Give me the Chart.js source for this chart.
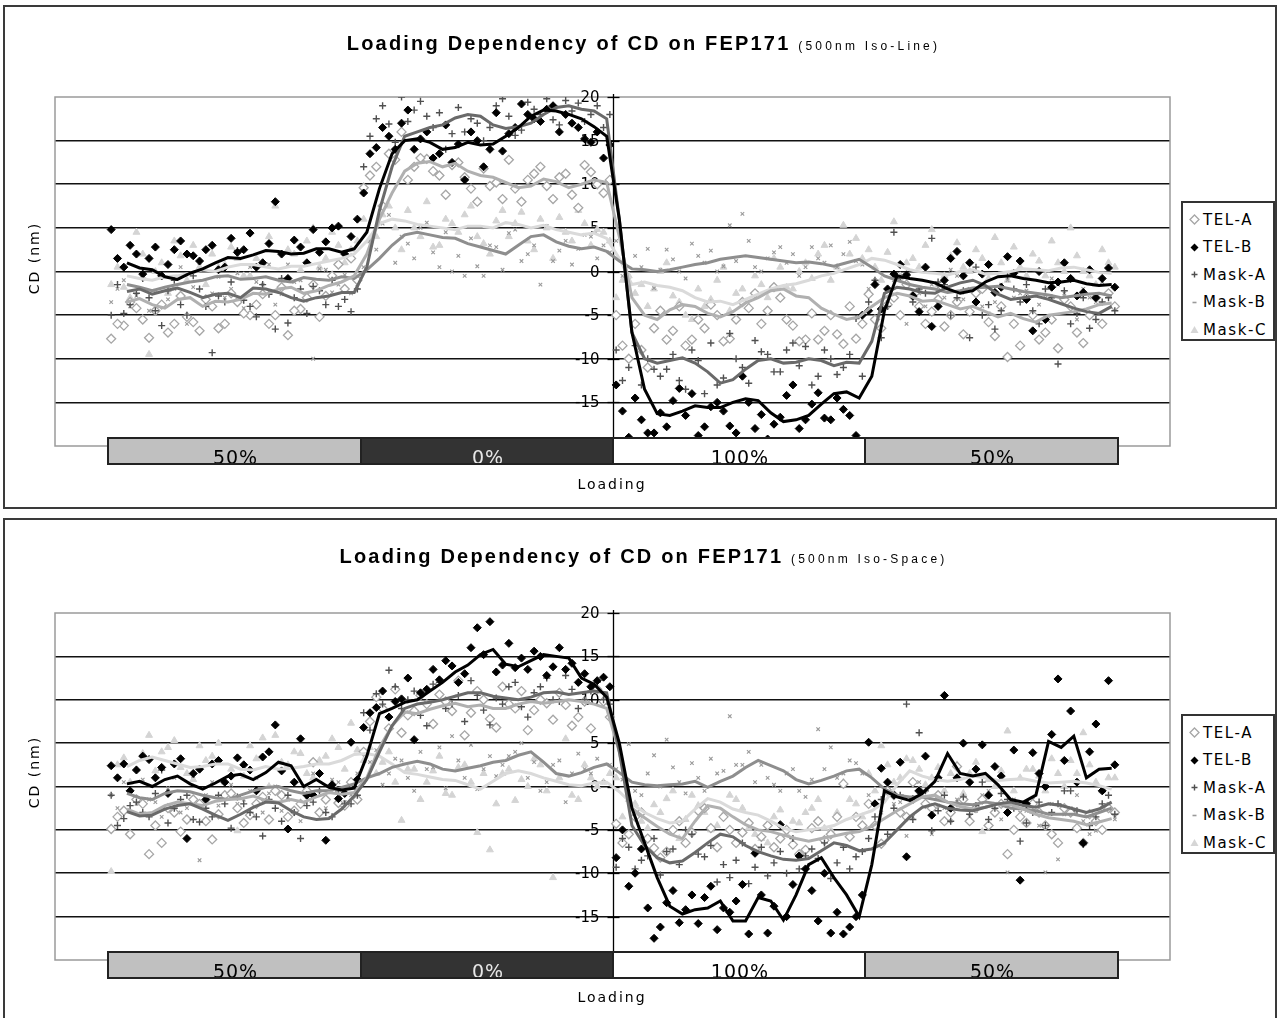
<!DOCTYPE html>
<html><head><meta charset="utf-8">
<script src="https://cdn.jsdelivr.net/npm/chart.js@4.4.1/dist/chart.umd.min.js"></script>
<style>
html,body{margin:0;padding:0;background:#fff;}
body{width:1279px;height:1018px;position:relative;overflow:hidden;font-family:"DejaVu Sans",sans-serif;color:#000;}
.panel{position:absolute;left:3px;width:1274px;border:2px solid #3a3a3a;box-sizing:border-box;}
canvas{position:absolute;left:0;}
.title{position:absolute;left:4px;width:1279px;text-align:center;font-family:"Liberation Sans",Arial,sans-serif;font-weight:bold;font-size:20px;line-height:24px;letter-spacing:2.2px;white-space:nowrap;}
.title small{font-weight:normal;font-size:12px;letter-spacing:3.2px;}
.ylab{position:absolute;font-size:14px;letter-spacing:2px;transform:translate(-50%,-50%) rotate(-90deg);white-space:nowrap;}
.xlab{position:absolute;font-size:14px;letter-spacing:2px;transform:translate(-50%,-50%);white-space:nowrap;}
.legend{position:absolute;border:2px solid #333;box-sizing:border-box;width:94px;height:140px;padding:3px 0 0 6px;background:#fff;}
.legend div{height:27.5px;display:flex;align-items:center;font-size:15px;letter-spacing:1.6px;white-space:nowrap;}
.legend svg{width:11px;height:11px;margin-right:3px;flex:none;}
</style></head>
<body>
<div class="panel" style="top:5px;height:504px"></div>
<div class="panel" style="top:518px;height:520px"></div>
<canvas id="c1" width="1279" height="510" style="top:0"></canvas>
<canvas id="c2" width="1279" height="508" style="top:510px"></canvas>
<div class="title" style="top:31px">Loading Dependency of CD on FEP171 <small>(500nm Iso-Line)</small></div>
<div class="title" style="top:544px">Loading Dependency of CD on FEP171 <small>(500nm Iso-Space)</small></div>
<div class="ylab" style="left:34px;top:258px">CD (nm)</div>
<div class="ylab" style="left:34px;top:772px">CD (nm)</div>
<div class="xlab" style="left:612px;top:484px">Loading</div>
<div class="xlab" style="left:612px;top:997px">Loading</div>
<div class="legend" id="lg1" style="left:1181px;top:201px"></div>
<div class="legend" id="lg2" style="left:1181px;top:714px"></div>
<script>
// ---------------- data ----------------
const seriesNames = ['TEL-A','TEL-B','Mask-A','Mask-B','Mask-C'];
const loadingLabels = ['50%','0%','100%','50%'];
const phaseFirstWafer = [1,21,41,61];
const phaseLastWafer = [20,40,60,80];
const yTickValues = [20,15,10,5,0,-5,-10,-15];
const wafers = Array.from({length:80},(_,i)=>i+1);
const evenWafers = wafers.filter(w => w % 2 === 0);          // 2..80
const oddWafers = wafers.filter(w => w % 2 === 1 && w > 1);  // 3..79

// Iso-Line: CD deviation (nm), site 1 of each wafer
const lineTELA = [
 -7.7,-6.2,-4.2,-7.6,-3.8,-6.0,-5.2,-6.8,-4.0,-6.0,-3.5,-5.0,-2.6,-5.0,-7.3,-4.3,-1.5,-2.8,0.8,1.5,
 9.6,12.0,13.5,16.0,12.0,12.9,11.0,12.2,10.8,8.0,9.8,8.3,9.5,10.5,12.0,8.3,11.2,7.3,11.4,9.0,
 -5.0,-10.0,-9.0,-6.5,-7.8,-4.0,-7.8,-6.5,-5.0,-7.7,-3.5,-2.5,-4.5,-3.0,-6.2,-7.8,-7.8,-5.0,-8.3,-7.7,
 -2.6,-6.5,-3.0,-1.5,-4.0,-4.6,-6.3,-3.5,-4.6,-2.0,-7.4,-9.8,-8.5,-5.0,-7.0,-8.8,-4.0,-8.2,-3.0,-2.5];
const lineTELB = [
 4.8,0.5,2.0,1.5,-0.5,2.5,2.0,1.2,3.0,0.5,2.2,4.4,1.0,8.0,-0.8,2.8,4.8,3.4,5.2,4.0,
 9.0,14.2,15.5,17.0,14.0,16.0,13.5,12.5,10.5,15.0,14.0,13.8,16.5,18.0,17.2,19.0,18.0,16.5,14.8,13.0,
 -13.0,-19.0,-17.0,-18.5,-17.8,-13.4,-14.0,-17.8,-15.0,-17.7,-12.0,-18.0,-19.2,-16.7,-13.0,-17.0,-13.9,-17.0,-15.8,-18.8,
 -4.5,-4.3,-0.3,-0.4,-4.6,-6.3,-1.0,2.3,1.0,-0.3,-2.4,1.7,1.2,-6.8,-5.5,-1.2,-0.8,-2.4,-3.0,0.4];
const lineMaskA = [
 -5.0,-4.8,-2.5,-3.0,-6.2,-1.0,-5.0,-2.0,-9.3,-3.5,2.4,-4.0,-1.5,-6.6,-5.9,-2.0,-1.7,-3.8,-4.0,-4.6,
 12.0,17.5,16.9,20.0,18.5,17.8,18.2,15.8,16.0,17.0,16.5,19.8,15.6,19.4,18.0,17.4,19.6,19.3,18.0,16.5,
 -9.0,-11.0,-13.0,-11.2,-11.2,-12.5,-9.0,-14.0,-13.0,-7.1,-11.0,-7.9,-9.5,-11.5,-8.2,-8.6,-12.0,-10.0,-11.0,-5.4,
 -3.5,-7.6,4.5,-0.3,-2.0,3.8,-1.5,-3.0,-7.6,-5.0,-6.6,-0.5,-3.5,-4.5,-2.0,-10.6,-6.0,-3.0,-5.5,-3.0];
const lineMaskB = [
 -3.5,-1.0,-2.8,-4.5,-0.5,-2.0,-6.0,1.0,-2.5,-3.0,-0.2,0.5,-1.5,-3.8,0.8,-1.0,-10.0,0.2,-1.5,-2.5,
 0.5,2.5,6.5,4.0,1.5,5.6,0.5,0.0,-0.5,0.6,3.0,0.2,4.8,2.0,-1.5,1.2,3.5,2.6,4.0,3.0,
 3.5,-1.0,0.5,-1.9,2.5,0.0,3.2,1.0,0.0,5.3,6.6,0.5,1.5,2.8,2.0,0.5,1.5,3.0,2.0,1.2,
 -2.0,-4.5,-1.0,-6.0,-2.5,-1.5,-3.0,-0.5,-2.0,-4.0,-3.5,-1.0,-2.5,-5.0,-3.0,-1.5,-4.0,-2.0,-3.5,-2.5];
const lineMaskC = [
 -1.5,-1.8,4.5,-9.5,1.0,3.5,-1.0,0.5,2.0,0.8,1.5,-0.5,1.0,7.5,2.5,0.2,5.0,1.5,3.0,2.5,
 6.0,4.0,7.5,2.5,5.0,8.0,3.0,5.5,6.5,4.0,2.0,7.0,5.5,3.5,6.0,1.5,4.5,7.0,3.0,4.5,
 -3.0,-0.5,-1.5,-2.0,1.0,-3.5,-5.5,-4.0,-1.0,-4.5,-2.0,-0.5,-3.0,0.5,-2.0,1.0,2.0,-1.0,5.3,3.8,
 2.5,-1.0,5.7,1.0,0.5,4.8,-0.5,3.3,0.0,1.5,3.9,-1.0,0.5,2.0,-0.5,1.0,5.0,0.0,-1.5,1.0];
// Iso-Line: CD deviation (nm), site 2 of each wafer
const lineTELA2 = [
 -6.0,-3.5,-5.5,-4.5,-7.0,-2.8,-5.8,-3.2,-6.5,-2.5,-4.8,-3.8,-6.0,-1.8,-4.5,-3.0,-5.2,-0.5,-2.0,-1.0,
 11.0,7.5,12.8,10.5,13.0,11.5,8.8,12.5,9.5,11.8,10.2,12.8,8.0,11.2,9.8,10.8,8.8,12.2,10.0,10.5,
 -8.5,-6.0,-11.0,-4.5,-6.8,-8.5,-5.5,-3.8,-8.0,-5.5,-4.2,-6.0,-1.8,-5.5,-8.0,-4.8,-6.8,-7.2,-4.0,-6.0,
 -5.5,-3.8,-5.0,-2.8,-6.0,-3.2,-5.0,-7.2,-2.5,-5.8,-4.0,-6.0,-3.0,-7.8,-5.5,-3.2,-7.0,-5.0,-6.0,-4.0];
const lineTELB2 = [
 1.5,3.0,-0.3,2.8,0.8,3.5,1.8,2.5,0.2,3.8,2.5,0.5,3.2,2.0,3.6,1.0,2.2,5.0,2.0,6.0,
 13.5,16.5,14.0,18.5,15.2,13.0,16.8,14.6,16.0,12.0,18.2,15.8,19.2,17.5,18.6,16.0,17.0,15.2,16.0,14.5,
 -16.0,-14.5,-18.5,-16.2,-14.8,-16.5,-18.8,-15.5,-16.0,-18.5,-15.0,-16.4,-17.5,-14.2,-18.0,-15.2,-16.8,-14.5,-16.5,-5.0,
 -1.5,-2.0,0.8,-2.8,0.5,-4.0,1.5,-0.5,-3.5,0.8,-1.8,-0.2,-3.2,0.0,-1.8,1.0,-2.8,0.2,-0.8,-1.8];
const lineMaskA2 = [
 -1.5,-3.8,-0.8,-4.5,-2.2,-3.8,-0.5,-4.0,-2.8,-1.2,-3.3,-5.2,-2.6,-0.8,-3.0,-4.8,-2.2,-1.0,-3.2,-2.0,
 15.5,19.0,14.8,17.2,19.5,16.5,14.0,18.8,17.5,15.0,19.0,17.8,16.2,18.6,19.8,16.8,18.4,17.2,19.0,18.0,
 -12.5,-8.5,-10.0,-12.0,-9.5,-13.5,-10.2,-8.2,-12.2,-10.0,-12.8,-9.2,-11.5,-9.0,-10.8,-13.0,-9.0,-11.8,-9.5,-12.0,
 -1.0,-4.0,-0.8,-3.5,-2.5,-1.2,-5.0,-2.2,0.5,-3.8,-4.5,-2.0,-1.5,-6.0,-3.0,-2.2,-4.8,-6.5,-3.5,-4.5];
const lineMaskB2 = [
 -2.0,-4.0,-0.8,-2.2,-3.2,0.5,-1.8,-3.6,-0.6,-2.0,-4.2,-1.2,0.8,-2.6,-1.2,-3.0,0.3,-2.4,-0.4,-1.8,
 3.5,5.5,1.0,3.2,5.0,2.2,4.5,1.8,3.8,-0.5,2.8,4.4,1.2,3.0,5.2,2.4,0.8,4.2,1.5,2.2,
 -0.5,1.8,2.6,0.2,1.4,-0.8,1.8,2.4,0.6,1.2,3.5,0.0,2.2,1.0,-0.5,2.8,1.0,0.5,3.4,0.8,
 -1.0,-3.5,-0.5,-2.8,-4.0,-1.8,0.2,-3.2,-2.0,-4.8,-1.5,-3.0,-2.2,-3.8,-0.8,-2.5,-5.5,-3.0,-1.2,-4.0];
const lineMaskC2 = [
 0.5,-3.0,2.0,0.0,-2.5,1.8,3.0,-1.5,0.5,2.8,-0.5,1.5,4.0,-1.0,2.0,3.5,0.5,4.5,1.0,3.5,
 3.5,6.5,5.0,7.0,4.0,2.8,6.0,4.5,7.5,3.2,5.8,4.0,6.8,2.5,5.0,6.2,3.5,5.5,4.8,3.5,
 -1.0,-2.5,-4.0,0.0,-2.8,-5.0,-2.0,-3.2,0.5,-2.5,-4.0,-1.5,1.5,-1.8,0.0,-0.8,3.0,0.5,2.0,1.5,
 0.5,2.2,-0.5,1.5,3.0,-1.5,1.8,0.5,2.5,-0.8,1.0,2.8,-0.5,1.2,3.5,0.0,1.8,-0.5,2.5,0.5];
// Iso-Line: moving-average trend lines, read at even wafers (2..80) and odd wafers (3..79)
const lineTELA_avg = [-3.5,-3.8,-3.2,-4.0,-3.5,-2.5,-2.0,-2.5,-1.6,-0.5, 6.0,11.5,12.6,12.4,11.0,10.2,9.8,10.3,10.0,10.2, -3.0,-5.5,-3.8,-4.8,-4.6,-3.0,-2.0,-3.0,-4.9,-5.2, -3.0,-2.8,-3.3,-4.3,-4.6,-4.8,-5.8,-4.8,-4.3,-3.6];
const lineTELA_avgOdd = [-3.1,-4.2,-3.0,-3.4,-3.2,-2.6,-1.8,-2.2,-1.2,2.0, 9.0,12.4,12.0,11.5,10.8,9.6,10.6,9.6,10.5,4.0, -5.0,-4.4,-4.0,-5.2,-3.6,-2.2,-2.8,-4.2,-5.5,-4.0, -2.5,-3.4,-3.8,-4.0,-5.2,-5.4,-5.0,-4.6,-3.8];
const lineTELB_avg = [1.0,0.2,-0.9,0.3,1.6,1.9,2.3,2.1,2.6,2.6, 9.5,15.0,14.8,14.2,14.5,15.5,17.8,18.4,17.5,15.5, -7.0,-16.3,-16.0,-15.6,-15.0,-14.8,-17.2,-16.5,-14.0,-14.5, -4.5,-0.8,-1.3,-2.5,-1.2,-0.5,-1.0,-1.2,-1.4,-1.5];
const lineTELB_avgOdd = [0.4,-0.6,-0.2,1.0,1.5,2.4,2.0,2.6,2.2,4.5, 13.5,15.2,14.0,14.8,14.6,16.5,18.5,18.0,16.6,6.0, -13.5,-16.5,-15.4,-15.6,-14.6,-16.2,-17.0,-15.2,-13.8,-12.0, -0.5,-1.0,-2.0,-2.2,-0.6,-0.8,-1.3,-1.0,-1.6];
const lineMaskA_avg = [-2.3,-2.6,-1.9,-3.0,-2.5,-1.9,-2.4,-3.4,-2.8,-2.4, 7.0,15.5,16.5,17.6,17.8,16.4,17.0,18.8,18.6,17.5, -7.0,-10.5,-9.9,-11.5,-12.4,-10.2,-10.5,-10.0,-10.8,-10.5, -2.5,-2.0,-2.5,-1.3,-1.6,-3.2,-2.8,-3.7,-4.6,-4.0];
const lineMaskA_avgOdd = [-2.0,-2.2,-2.4,-2.6,-3.0,-2.0,-3.0,-3.0,-2.4,0.5, 12.0,16.0,16.8,18.0,16.8,16.6,18.0,19.0,18.4,6.0, -10.0,-10.2,-10.5,-12.8,-11.2,-10.0,-10.4,-10.2,-10.4,-8.0, -1.8,-2.4,-1.8,-1.0,-2.6,-3.0,-3.2,-4.2,-4.8];
const lineMaskB_avg = [-1.5,-2.2,-1.5,-1.0,-0.5,-0.8,-1.0,-0.7,-1.0,-0.8, 1.5,4.2,4.2,3.8,2.8,2.0,4.0,3.4,2.6,2.3, 0.3,0.0,0.5,1.0,1.6,1.6,1.2,1.1,0.6,1.4, -0.5,-1.5,-2.0,-2.2,-1.8,-2.0,-2.5,-3.0,-2.6,-2.8];
const lineMaskB_avgOdd = [-1.8,-1.8,-1.2,-0.6,-0.9,-0.6,-1.2,-0.9,-0.6,0.2, 3.0,4.5,3.9,3.2,2.4,3.0,4.2,2.9,2.8,1.2, 0.2,0.2,0.8,1.4,1.8,1.4,1.0,0.9,1.0,0.5, -1.0,-1.8,-2.4,-1.9,-1.7,-2.3,-2.7,-2.8,-2.5];
const lineMaskC_avg = [-0.5,-1.0,-0.5,0.2,0.5,0.8,0.3,0.6,1.2,2.0, 5.5,5.8,5.2,4.8,5.2,5.6,5.0,4.8,4.2,3.8, -1.5,-1.6,-2.2,-3.5,-3.8,-2.6,-1.6,-1.0,-0.2,0.8, 1.3,0.2,-0.2,0.0,-0.3,0.0,0.2,0.4,0.2,-0.2];
const lineMaskC_avgOdd = [-0.8,-0.6,-0.2,0.0,0.8,0.5,0.6,0.9,1.5,3.5, 6.0,5.4,5.0,5.2,5.0,5.4,5.3,4.5,4.4,1.5, -1.2,-1.8,-3.0,-3.4,-3.2,-2.0,-1.4,-0.5,0.3,1.5, 0.8,-0.1,-0.4,0.2,-0.2,0.3,0.1,0.5,-0.1];

// Iso-Space: CD deviation (nm), site 1 of each wafer
const spaceTELA = [
 -4.9,-2.8,-1.5,-7.8,-6.5,-3.0,-3.8,-2.0,-6.1,-1.0,-2.5,-3.3,-1.2,-0.5,-3.5,-2.0,2.8,-1.5,-1.9,0.5,
 4.0,10.3,6.7,6.2,8.7,9.5,10.6,8.7,5.9,11.0,7.8,11.5,9.0,6.5,10.0,7.7,9.4,8.0,6.7,9.8,
 -4.3,-5.5,-3.0,-7.1,-7.5,-4.0,-5.3,-2.5,-7.0,-5.0,-5.3,-7.2,-4.5,-6.0,-6.7,-7.3,-4.0,-5.5,0.3,-3.5,
 -2.0,-6.6,-1.0,-3.5,-0.5,-2.5,-4.0,2.3,-4.0,-1.5,-3.0,-7.8,-3.5,-2.0,-4.5,-6.5,-3.0,-6.5,-4.0,-2.5];
const spaceTELB = [
 2.4,2.6,1.9,3.1,2.2,2.6,-6.0,2.0,2.6,0.5,3.3,1.9,3.4,7.1,-4.9,5.5,-1.0,-6.2,-1.4,5.1,
 6.8,9.1,8.0,10.1,5.4,11.2,12.3,13.9,13.0,18.3,19.0,14.0,13.7,13.5,15.0,13.8,13.5,12.0,11.5,12.6,
 -8.2,-11.5,-7.2,-17.5,-13.4,-15.7,-12.5,-12.8,-16.5,-14.5,-11.3,-7.7,-16.9,-4.4,-11.3,-9.5,-15.5,-16.9,-17.0,-15.0,
 5.1,2.1,-1.0,-8.1,-0.5,-3.3,10.5,1.0,0.5,4.8,2.3,-3.0,-10.8,3.9,0.0,12.4,8.7,-6.5,7.2,12.2];
const spaceMaskA = [
 -1.0,-3.7,-1.8,-3.5,1.9,-2.5,-1.0,-4.1,-3.5,-2.0,-1.2,-3.0,-5.7,-2.5,-1.0,-6.0,-1.8,-3.0,-0.5,-2.0,
 8.5,10.7,13.4,9.0,11.0,7.0,12.0,9.5,7.5,10.5,7.1,9.5,12.0,8.0,11.5,10.0,12.8,9.0,11.0,10.0,
 -9.3,-7.0,-8.5,-6.0,-7.5,-9.0,-5.5,-8.1,-11.0,-10.5,-6.5,-9.3,-10.3,-7.5,-6.0,-8.0,-8.3,-10.6,-7.0,-8.1,
 -6.0,-1.5,-2.5,9.5,6.2,-5.1,-1.0,-2.0,-3.2,0.5,-2.5,-1.5,-6.3,-3.0,-4.5,-2.0,-0.5,-6.7,-3.5,-1.0];
const spaceMaskB = [
 -1.0,0.5,-2.0,-1.5,-3.5,1.0,-2.5,-8.5,0.5,-1.0,-2.0,-0.5,-3.0,0.0,-1.5,-4.0,1.5,-2.5,0.5,-1.0,
 0.5,4.2,1.5,3.0,-0.5,2.0,4.5,5.8,1.0,-0.3,3.5,2.5,4.0,1.0,-0.5,2.5,-1.8,3.8,1.5,0.5,
 2.0,4.9,-1.0,3.6,5.4,0.5,2.7,-0.5,1.5,8.1,2.5,0.5,1.0,-0.5,2.0,-1.2,6.6,4.5,1.5,2.7,
 -1.0,-3.0,-2.0,-5.7,0.5,-5.5,-2.5,-1.5,-3.5,-1.0,-2.0,-9.9,-3.0,-1.5,-9.9,-8.4,-2.5,-4.0,-5.1,-2.0];
const spaceMaskC = [
 -9.8,3.3,2.0,5.9,4.0,5.3,1.5,4.7,3.5,0.5,-5.1,4.7,5.6,5.9,2.5,3.8,1.0,3.5,4.5,7.3,
 3.0,1.5,4.0,-3.9,2.0,0.5,3.5,-1.0,2.5,-5.3,-7.3,1.5,-1.6,0.0,2.5,-10.5,5.5,-1.5,1.0,0.5,
 1.0,-1.5,-4.0,-2.1,-1.4,-6.0,-1.0,-3.0,-4.5,-1.0,-2.5,-5.5,-6.5,-2.7,-4.0,-3.0,-1.5,-5.0,0.5,-2.0,
 1.5,4.7,0.5,3.2,2.0,1.0,-0.5,2.5,1.5,-5.2,0.0,6.4,1.0,2.0,-0.5,1.5,3.0,6.2,0.5,1.0];
// Iso-Space: CD deviation (nm), site 2 of each wafer
const spaceTELA2 = [
 -3.5,-5.5,-2.0,-4.5,-2.5,-5.2,-1.5,-4.0,-3.2,-0.8,-4.2,-2.0,-3.8,-1.0,-2.8,-0.5,-3.0,0.0,-2.2,-1.5,
 7.5,9.0,11.2,8.2,10.5,7.2,9.8,12.2,8.5,10.0,6.8,9.5,11.0,8.8,9.6,10.8,7.0,9.8,11.2,8.0,
 -6.5,-3.5,-6.0,-8.2,-5.0,-6.5,-2.8,-4.8,-3.5,-6.5,-4.2,-5.8,-7.0,-5.0,-7.8,-4.8,-6.2,-3.5,-5.8,-4.5,
 -4.5,-0.5,-3.0,0.5,-2.0,-1.0,-3.0,-1.5,-2.5,-4.5,-2.0,-5.0,-4.2,-3.0,-5.5,-2.5,-4.8,-3.2,-5.0,-3.0];
const spaceTELB2 = [
 1.0,-0.5,3.5,1.0,-0.8,3.2,1.5,-1.5,3.0,1.2,2.5,-0.5,4.0,1.8,0.5,-1.0,1.5,0.2,-0.8,0.8,
 8.5,11.0,9.8,12.5,10.8,13.5,14.5,12.0,16.0,15.2,13.2,16.5,14.8,15.6,12.8,16.0,14.2,13.0,12.2,11.5,
 -5.0,-10.0,-14.0,-16.2,-12.0,-14.2,-15.8,-11.5,-14.0,-13.2,-17.0,-12.5,-13.8,-15.0,-8.0,-12.0,-10.0,-14.5,-16.2,-12.5,
 -2.0,0.5,2.8,-1.5,3.5,1.0,-2.5,5.0,2.0,-1.0,1.2,4.2,-2.0,1.5,6.0,3.0,0.5,4.0,-0.5,2.5];
const spaceMaskA2 = [
 -4.5,-2.2,-3.0,-0.8,-4.2,-1.5,-3.8,-2.5,-1.0,-4.8,-2.0,-3.5,-1.5,-4.0,-3.0,-2.2,-0.5,-3.5,-2.0,-1.0,
 6.5,9.5,11.5,10.0,8.2,11.8,9.0,10.5,12.2,8.8,10.2,11.5,9.2,10.8,12.5,9.8,11.2,10.0,12.0,9.5,
 -6.0,-9.5,-8.0,-10.2,-7.2,-5.0,-7.8,-6.8,-9.0,-8.5,-11.2,-7.0,-8.8,-10.0,-9.5,-7.2,-6.5,-8.8,-9.5,-7.5,
 -3.5,-5.5,-1.0,-3.8,-0.5,-2.8,-4.0,-1.2,-2.2,-3.8,-0.8,-2.5,-4.2,-1.8,-3.0,-0.5,-2.8,-4.5,-2.0,-3.2];
const spaceMaskB2 = [
 -2.5,-0.5,0.8,-1.8,-0.2,-3.0,1.2,-1.0,-2.2,0.2,-1.5,1.0,-0.8,-2.8,0.5,-1.2,-0.5,0.8,-1.8,1.5,
 2.8,0.2,3.2,1.0,4.0,2.2,-0.2,3.0,4.8,2.0,1.2,3.5,5.0,2.8,0.5,3.0,1.5,2.0,3.2,2.5,
 0.8,-0.5,1.5,0.0,2.2,-0.8,1.0,3.2,1.8,2.5,4.0,2.5,0.2,1.5,-0.5,0.8,2.0,1.0,3.0,1.5,
 -2.0,0.5,-1.8,-3.5,-0.5,-2.2,-4.0,-1.2,-2.8,-0.5,-3.8,-1.5,-2.8,-4.5,-2.0,-3.2,-1.0,-5.5,-2.5,-3.8];
const spaceMaskC2 = [
 2.5,0.5,3.8,1.8,4.5,2.2,0.8,3.0,5.0,2.0,1.2,3.2,0.0,2.8,4.0,1.5,3.0,5.5,2.0,4.2,
 4.5,2.8,0.5,2.0,-1.5,1.8,-0.8,2.2,0.5,1.5,-2.0,2.0,0.8,3.2,-0.5,1.0,-1.0,2.5,0.0,1.5,
 -3.5,-2.0,-4.8,-3.0,-0.5,-3.8,-2.2,-5.0,-3.2,-1.5,-4.8,-6.0,-3.5,-5.5,-4.2,-2.5,-4.8,-3.0,-1.5,-3.5,
 -0.5,2.5,1.0,3.0,0.2,2.2,1.5,-0.8,2.8,0.8,1.8,-0.5,2.0,1.2,3.2,0.0,1.5,2.5,-0.5,1.0];
// Iso-Space: moving-average trend lines, read at even wafers (2..80) and odd wafers (3..79)
const spaceTELA_avg = [-2.6,-3.0,-1.8,-2.2,-1.5,-1.1,-1.8,-1.8,-0.7,-0.7, 4.5,8.6,8.9,9.6,9.4,9.0,9.8,9.8,9.8,9.0, -2.5,-4.6,-6.0,-2.2,-3.5,-5.0,-5.6,-6.3,-5.7,-5.2, -3.7,-2.0,-1.0,-2.3,-2.4,-2.1,-3.2,-3.8,-4.4,-3.7];
const spaceTELA_avgOdd = [-3.2,-2.2,-2.0,-1.7,-1.4,-1.6,-1.5,-1.2,-0.9,1.0, 7.0,8.4,9.3,9.2,9.0,9.5,9.6,10.0,9.5,4.0, -3.6,-5.5,-4.0,-2.5,-4.4,-5.2,-6.0,-6.0,-5.4,-4.6, -2.8,-1.2,-1.8,-2.6,-2.0,-2.6,-3.6,-4.0,-4.1];
const spaceTELB_avg = [0.3,0.0,1.2,-0.3,1.2,0.8,2.8,0.0,-0.1,-0.2, 8.4,9.7,11.0,13.2,15.2,14.1,14.5,15.0,12.5,10.3, -2.5,-10.5,-14.7,-14.0,-15.5,-12.8,-15.4,-9.0,-10.5,-15.0, -0.5,-1.6,0.6,1.5,1.5,-1.5,-1.0,4.5,1.0,2.1];
const spaceTELB_avgOdd = [0.6,0.8,0.3,0.4,1.4,1.6,2.4,0.8,-0.4,3.5, 9.0,10.0,12.0,14.0,15.8,13.8,15.2,14.8,11.8,5.0, -6.5,-13.8,-14.2,-13.2,-15.5,-13.2,-12.5,-8.2,-12.5,-9.0, -1.2,-0.8,3.8,1.2,0.2,-1.8,5.2,5.8,2.0];
const spaceMaskA_avg = [-2.9,-3.3,-2.2,-2.6,-3.9,-2.4,-1.9,-3.5,-3.7,-1.1, 4.0,9.0,9.7,10.4,10.8,10.2,10.3,10.9,10.8,10.8, -4.5,-8.2,-8.6,-6.5,-5.8,-7.5,-8.4,-8.3,-6.5,-7.4, -6.5,-3.5,-2.0,-2.7,-2.4,-1.8,-2.4,-2.2,-3.0,-1.8];
const spaceMaskA_avgOdd = [-3.4,-2.6,-2.0,-3.3,-3.2,-1.8,-2.8,-3.8,-2.6,0.8, 7.0,9.5,10.0,10.8,10.4,10.0,10.8,10.6,11.0,4.0, -6.8,-8.8,-7.6,-5.5,-6.8,-8.0,-8.5,-7.4,-6.8,-7.2, -5.0,-2.4,-2.5,-2.8,-2.0,-2.2,-2.0,-2.6,-2.6];
const spaceMaskB_avg = [-0.8,-1.5,-0.5,-1.0,-1.5,-0.5,0.0,-0.8,-0.5,0.3, 1.5,2.6,2.6,1.8,2.4,3.0,4.0,1.5,1.6,2.6, 0.5,0.1,0.3,-0.1,1.2,3.0,1.8,0.3,1.2,2.0, -0.3,-1.2,-1.5,-2.0,-1.8,-2.5,-2.8,-3.2,-3.5,-2.5];
const spaceMaskB_avgOdd = [-1.3,-0.8,-0.6,-1.3,-1.0,-0.1,-0.5,-0.5,-0.1,1.0, 2.2,2.9,2.0,2.1,2.8,3.6,2.8,1.2,2.2,1.6, 0.2,0.2,0.6,0.6,2.2,2.4,0.8,0.7,1.8,1.0, -1.0,-1.2,-1.8,-2.1,-2.0,-2.6,-3.2,-3.2,-3.0];
const spaceMaskC_avg = [2.3,3.4,2.6,2.3,2.6,1.9,2.0,2.3,2.6,3.7, 3.5,1.6,1.1,0.7,-0.3,1.5,1.5,0.6,0.1,0.5, -2.0,-3.7,-4.0,-1.4,-2.6,-3.3,-4.8,-5.0,-4.5,-3.3, -1.8,1.8,0.8,0.8,1.0,0.8,0.6,0.5,0.4,-0.3];
const spaceMaskC_avgOdd = [3.0,3.0,2.2,2.6,2.0,2.3,2.1,2.6,3.0,3.8, 2.6,1.4,0.8,0.2,0.6,1.8,1.0,0.2,0.4,-0.6, -3.0,-4.2,-2.6,-1.8,-3.0,-4.0,-5.2,-4.8,-3.8,-2.8, 0.2,1.2,0.6,1.2,0.7,0.9,0.4,0.6,0.1];

// ---------------- styles ----------------
const STYLE = [
 {ps:'rectRot', r:4.5, bg:'#ffffff', bc:'#a6a6a6', bw:1.3, lc:'#b0b0b0', so:12, lo:2},
 {ps:'rectRot', r:4,   bg:'#000000', bc:'#000000', bw:1,   lc:'#000000', so:10, lo:0},
 {ps:'cross',   r:3.5, bg:'#505050', bc:'#505050', bw:1.4, lc:'#6a6a6a', so:11, lo:1},
 {ps:'crossRot',r:2.5, bg:'#9a9a9a', bc:'#9a9a9a', bw:1.1, lc:'#8e8e8e', so:13, lo:3},
 {ps:'triangle',r:4,   bg:'#d4d4d4', bc:'#d4d4d4', bw:1,   lc:'#dadada', so:14, lo:4}
];
const SITE_OFFSET = [-0.25, 0.25];
const PHASE_FILL = ['#c0c0c0','#333333','#ffffff','#c0c0c0'];
const PHASE_TEXT = ['#000','#e8e8e8','#000','#000'];
const MARKER_SVG = [
 '<svg viewBox="0 0 11 11"><polygon points="5.5,1 10,5.5 5.5,10 1,5.5" fill="#fff" stroke="#a6a6a6" stroke-width="1.3"/></svg>',
 '<svg viewBox="0 0 11 11"><polygon points="5.5,1.5 9.5,5.5 5.5,9.5 1.5,5.5" fill="#000"/></svg>',
 '<svg viewBox="0 0 11 11"><path d="M5.5 2.5V8.5M2.5 5.5H8.5" stroke="#505050" stroke-width="1.4"/></svg>',
 '<svg viewBox="0 0 11 11"><path d="M3.5 5.5H7.5" stroke="#9a9a9a" stroke-width="1.6"/></svg>',
 '<svg viewBox="0 0 11 11"><polygon points="5.5,2 9.5,9 1.5,9" fill="#d6d6d6"/></svg>'
];

const framePlugin = {
  id:'frameAndLoading',
  beforeDatasetsDraw(chart){
    const {ctx, chartArea:a, scales:{x, y}} = chart;
    ctx.save();
    ctx.strokeStyle='#9a9a9a'; ctx.lineWidth=1.5;
    ctx.strokeRect(a.left, a.top, a.right-a.left, a.bottom-a.top);
    const ax = Math.round(x.getPixelForValue(40.5)) + 0.5;
    ctx.strokeStyle='#000'; ctx.lineWidth=1.3;
    ctx.beginPath(); ctx.moveTo(ax, a.top-3); ctx.lineTo(ax, a.bottom); ctx.stroke();
    ctx.fillStyle='#000'; ctx.font='15px "DejaVu Sans"'; ctx.textAlign='right'; ctx.textBaseline='middle';
    yTickValues.forEach(v=>{
      const py = Math.round(y.getPixelForValue(v)) + 0.5;
      ctx.beginPath(); ctx.moveTo(ax-6, py); ctx.lineTo(ax+6, py); ctx.stroke();
      ctx.fillText(String(v), ax-14, py+1);
    });
    ctx.restore();
  },
  afterDraw(chart){
    const {ctx, chartArea:a, scales:{x}} = chart;
    const top = Math.round(a.bottom) - 8, h = 26;
    ctx.save();
    loadingLabels.forEach((lab,i)=>{
      const x0 = Math.round(x.getPixelForValue(phaseFirstWafer[i]-0.5));
      const x1 = Math.round(x.getPixelForValue(phaseLastWafer[i]+0.5));
      ctx.fillStyle = PHASE_FILL[i];
      ctx.fillRect(x0, top, x1-x0, h);
      ctx.save();
      ctx.beginPath(); ctx.rect(x0, top, x1-x0, h-1); ctx.clip();
      ctx.fillStyle = PHASE_TEXT[i];
      ctx.font = '19px "DejaVu Sans"';
      ctx.textAlign='center'; ctx.textBaseline='top';
      try { ctx.letterSpacing = '1px'; } catch(e) {}
      ctx.fillText(lab, (x0+x1)/2 + 1, top+12);
      ctx.restore();
      ctx.strokeStyle='#222'; ctx.lineWidth=2;
      ctx.strokeRect(x0, top, x1-x0, h);
    });
    ctx.restore();
  }
};

function makeChart(id, sites, avEven, avOdd, padTop, padBottom){
  const datasets = [];
  seriesNames.forEach((name,k)=>{
    const s = STYLE[k];
    const pts = [];
    sites.forEach((site, j) => site[k].forEach((v,i)=> pts.push({x: wafers[i] + SITE_OFFSET[j], y: v})));
    datasets.push({label:name, data: pts, showLine:false,
      pointStyle:s.ps, pointRadius:s.r, pointBackgroundColor:s.bg, pointBorderColor:s.bc, pointBorderWidth:s.bw,
      borderColor:s.bc, backgroundColor:s.bg, order:s.so});
    const linePts = avEven[k].map((v,i)=>({x:evenWafers[i], y:v}))
      .concat(avOdd[k].map((v,i)=>({x:oddWafers[i], y:v})))
      .sort((p,q)=>p.x-q.x);
    datasets.push({label:name+' (moving average)', data: linePts,
      borderColor:s.lc, borderWidth:3, pointRadius:0, tension:0, order:s.lo});
  });
  return new Chart(document.getElementById(id), {
    type:'line',
    data:{datasets},
    options:{
      responsive:false, animation:false, devicePixelRatio:1, events:[],
      layout:{padding:{left:55, right:109, top:padTop, bottom:padBottom}},
      plugins:{legend:{display:false}, title:{display:false}, tooltip:{enabled:false}},
      scales:{
        x:{type:'linear', min:-3.7, max:84.62, display:false},
        y:{type:'linear', min:-20, max:20, position:{x:40.5},
           ticks:{stepSize:5, display:false},
           grid:{color:(c)=> (c.tick && Math.abs(c.tick.value)===20) ? 'rgba(0,0,0,0)' : '#111',
                 lineWidth:1.6, drawTicks:false},
           border:{display:false}}
      }
    },
    plugins:[framePlugin]
  });
}

function buildLegend(id){
  const el = document.getElementById(id);
  seriesNames.forEach((name,k)=>{
    const row = document.createElement('div');
    row.innerHTML = MARKER_SVG[k] + '<span>' + name + '</span>';
    el.appendChild(row);
  });
}

makeChart('c1',
  [[lineTELA,lineTELB,lineMaskA,lineMaskB,lineMaskC],[lineTELA2,lineTELB2,lineMaskA2,lineMaskB2,lineMaskC2]],
  [lineTELA_avg,lineTELB_avg,lineMaskA_avg,lineMaskB_avg,lineMaskC_avg],
  [lineTELA_avgOdd,lineTELB_avgOdd,lineMaskA_avgOdd,lineMaskB_avgOdd,lineMaskC_avgOdd], 97, 64);
makeChart('c2',
  [[spaceTELA,spaceTELB,spaceMaskA,spaceMaskB,spaceMaskC],[spaceTELA2,spaceTELB2,spaceMaskA2,spaceMaskB2,spaceMaskC2]],
  [spaceTELA_avg,spaceTELB_avg,spaceMaskA_avg,spaceMaskB_avg,spaceMaskC_avg],
  [spaceTELA_avgOdd,spaceTELB_avgOdd,spaceMaskA_avgOdd,spaceMaskB_avgOdd,spaceMaskC_avgOdd], 103, 58);
buildLegend('lg1'); buildLegend('lg2');
</script>
</body></html>
